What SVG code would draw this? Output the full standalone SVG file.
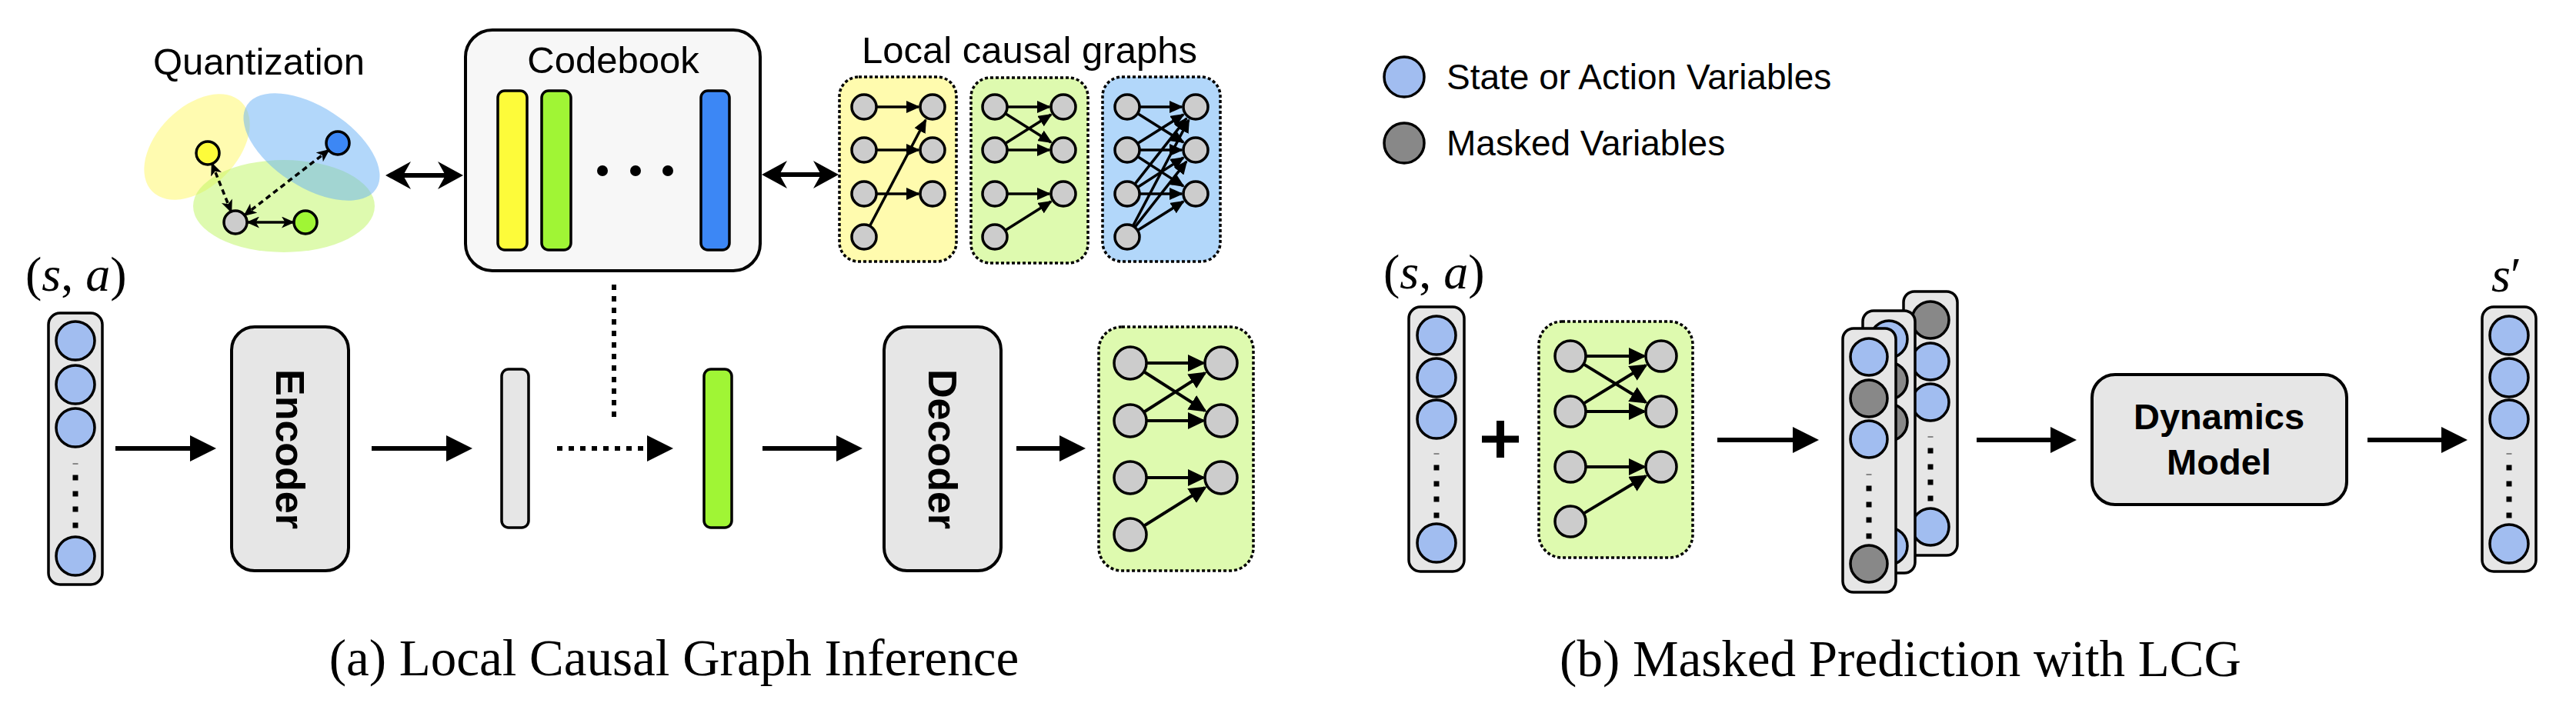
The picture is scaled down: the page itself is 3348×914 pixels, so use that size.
<svg xmlns="http://www.w3.org/2000/svg" xmlns:xlink="http://www.w3.org/1999/xlink" width="3348" height="914" viewBox="0 0 3348 914">
<style>
.t{font-family:"Liberation Sans",Arial,Helvetica,sans-serif;fill:#000}
.b{font-weight:bold}
.ser{font-family:"Liberation Serif","Times New Roman",serif;fill:#000}
.it{font-style:italic}
.ln{stroke:#000;stroke-width:6;fill:none}
.dl{stroke:#000;stroke-width:6;fill:none;stroke-dasharray:7 8}
.vec{fill:#E6E6E6;stroke:#000;stroke-width:3.5}
.blk{fill:#E6E6E6;stroke:#000;stroke-width:4}
.sv{fill:#A1BDF0;stroke:#000;stroke-width:3.5}
.mv{fill:#888888;stroke:#000;stroke-width:3.5}
.gn{fill:#CCCCCC;stroke:#000;stroke-width:3.5}
.lcg{stroke:#000;stroke-width:3.5;stroke-dasharray:4 3}
.ge{stroke:#000;stroke-width:3.5;fill:none;marker-end:url(#hG)}
.ge2{stroke:#000;stroke-width:4;fill:none;marker-end:url(#hG2)}
.qd{stroke:#000;stroke-width:3.5;fill:none;stroke-dasharray:7 5;marker-start:url(#hSm);marker-end:url(#hSm)}
</style>
<defs>
<marker id="hBig" markerUnits="userSpaceOnUse" markerWidth="34" markerHeight="34" viewBox="0 0 34 34" refX="26" refY="17" orient="auto"><path d="M0,0 L34,17 L0,34 z" fill="#000"/></marker>
<marker id="hSt" markerUnits="userSpaceOnUse" markerWidth="33" markerHeight="36" viewBox="0 0 33 36" refX="25" refY="18" orient="auto-start-reverse"><path d="M0,0 L33,18 L0,36 L10,18 z" fill="#000"/></marker>
<marker id="hSm" markerUnits="userSpaceOnUse" markerWidth="17" markerHeight="15" viewBox="0 0 17 15" refX="15" refY="7.5" orient="auto-start-reverse"><path d="M0,0 L17,7.5 L0,15 L4.5,7.5 z" fill="#000"/></marker>
<marker id="hG" markerUnits="userSpaceOnUse" markerWidth="18" markerHeight="16" viewBox="0 0 18 16" refX="16" refY="8" orient="auto"><path d="M0,0 L18,8 L0,16 z" fill="#000"/></marker>
<marker id="hG2" markerUnits="userSpaceOnUse" markerWidth="23" markerHeight="22" viewBox="0 0 23 22" refX="20" refY="11" orient="auto"><path d="M0,0 L23,11 L0,22 z" fill="#000"/></marker>
<g id="dots">
<rect x="-3.5" y="-1" width="7" height="2" fill="#888"/>
<rect x="-3.5" y="14.5" width="7" height="7" fill="#000"/>
<rect x="-3.5" y="35.5" width="7" height="7" fill="#000"/>
<rect x="-3.5" y="55.5" width="7" height="7" fill="#000"/>
<rect x="-3.5" y="76.5" width="7" height="7" fill="#000"/>
</g>
</defs>
<rect width="3348" height="914" fill="#fff"/>

<!-- Quantization -->
<g id="quantization">
<text class="t" x="199" y="97" font-size="49">Quantization</text>
<ellipse cx="256" cy="191" rx="82" ry="52" transform="rotate(-45 256 191)" fill="#FFF761" opacity="0.5"/>
<ellipse cx="369" cy="268" rx="118" ry="60" fill="#BDF55F" opacity="0.5"/>
<ellipse cx="405" cy="191" rx="100" ry="52" transform="rotate(33 405 191)" fill="#65AFF5" opacity="0.5"/>
<circle cx="270" cy="199" r="15" fill="#FDFB3A" stroke="#000" stroke-width="3.5"/>
<circle cx="439" cy="186" r="15" fill="#3C87F5" stroke="#000" stroke-width="3.5"/>
<circle cx="306" cy="289" r="15" fill="#CCCCCC" stroke="#000" stroke-width="3.5"/>
<circle cx="397" cy="289" r="15" fill="#A0F535" stroke="#000" stroke-width="3.5"/>
<line class="qd" x1="275.6" y1="212.9" x2="300.4" y2="275.1"/>
<line class="qd" x1="427.1" y1="195.2" x2="317.9" y2="279.8"/>
<line x1="322" y1="289" x2="381" y2="289" stroke="#000" stroke-width="3.5" marker-start="url(#hSm)" marker-end="url(#hSm)"/>
</g>

<!-- Codebook -->
<g id="codebook">
<rect x="605" y="39" width="383" height="313" rx="35" fill="#F7F7F7" stroke="#000" stroke-width="4"/>
<text class="t" x="797" y="95" font-size="49" text-anchor="middle">Codebook</text>
<rect x="647" y="118" width="38" height="207" rx="9" fill="#FDFB3A" stroke="#000" stroke-width="3.5"/>
<rect x="704" y="118" width="38" height="207" rx="9" fill="#A0F535" stroke="#000" stroke-width="3.5"/>
<rect x="911" y="118" width="37" height="207" rx="9" fill="#3C87F5" stroke="#000" stroke-width="3.5"/>
<circle cx="783" cy="222" r="7" fill="#000"/>
<circle cx="826" cy="222" r="7" fill="#000"/>
<circle cx="868" cy="222" r="7" fill="#000"/>
</g>

<!-- Local causal graphs -->
<text class="t" x="1338" y="82" font-size="49" text-anchor="middle">Local causal graphs</text>
<g id="lcg-yellow">
<rect class="lcg" x="1091" y="100" width="152" height="240" rx="25" fill="#FFFBAE"/>
<line class="ge" x1="1139" y1="139" x2="1194" y2="139"/>
<line class="ge" x1="1139" y1="195" x2="1194" y2="195"/>
<line class="ge" x1="1139" y1="252" x2="1194" y2="252"/>
<line class="ge" x1="1130.5" y1="293.8" x2="1203" y2="156"/>
<circle class="gn" cx="1123" cy="139" r="16"/><circle class="gn" cx="1123" cy="195" r="16"/><circle class="gn" cx="1123" cy="252" r="16"/><circle class="gn" cx="1123" cy="308" r="16"/>
<circle class="gn" cx="1212" cy="139" r="16"/><circle class="gn" cx="1212" cy="195" r="16"/><circle class="gn" cx="1212" cy="252" r="16"/>
</g>
<g id="lcg-green">
<rect class="lcg" x="1262" y="101" width="152" height="241" rx="25" fill="#DEFAAF"/>
<line class="ge" x1="1309" y1="139" x2="1364" y2="139"/>
<line class="ge" x1="1306.5" y1="147.5" x2="1366" y2="185"/>
<line class="ge" x1="1306.5" y1="186.5" x2="1366" y2="149"/>
<line class="ge" x1="1309" y1="195" x2="1364" y2="195"/>
<line class="ge" x1="1309" y1="252" x2="1364" y2="252"/>
<line class="ge" x1="1306.5" y1="299.5" x2="1366" y2="262"/>
<circle class="gn" cx="1293" cy="139" r="16"/><circle class="gn" cx="1293" cy="195" r="16"/><circle class="gn" cx="1293" cy="252" r="16"/><circle class="gn" cx="1293" cy="308" r="16"/>
<circle class="gn" cx="1382" cy="139" r="16"/><circle class="gn" cx="1382" cy="195" r="16"/><circle class="gn" cx="1382" cy="252" r="16"/>
</g>
<g id="lcg-blue">
<rect class="lcg" x="1433" y="100" width="153" height="240" rx="25" fill="#B2D7FA"/>
<line class="ge" x1="1481" y1="139" x2="1536" y2="139"/>
<line class="ge" x1="1478.5" y1="147.5" x2="1538" y2="185"/>
<line class="ge" x1="1478.5" y1="186.5" x2="1538" y2="149"/>
<line class="ge" x1="1481" y1="195" x2="1536" y2="195"/>
<line class="ge" x1="1478.5" y1="203.5" x2="1538" y2="242"/>
<line class="ge" x1="1478.5" y1="243.5" x2="1538" y2="205"/>
<line class="ge" x1="1481" y1="252" x2="1536" y2="252"/>
<line class="ge" x1="1474.9" y1="239.4" x2="1542" y2="154"/>
<line class="ge" x1="1472.5" y1="293.8" x2="1545" y2="156"/>
<line class="ge" x1="1474.9" y1="295.4" x2="1542" y2="210"/>
<line class="ge" x1="1478.5" y1="299.5" x2="1538" y2="262"/>
<circle class="gn" cx="1465" cy="139" r="16"/><circle class="gn" cx="1465" cy="195" r="16"/><circle class="gn" cx="1465" cy="252" r="16"/><circle class="gn" cx="1465" cy="308" r="16"/>
<circle class="gn" cx="1554" cy="139" r="16"/><circle class="gn" cx="1554" cy="195" r="16"/><circle class="gn" cx="1554" cy="252" r="16"/>
</g>

<!-- (a) pipeline -->
<g id="input-sa">
<text class="ser" x="33" y="378" font-size="64">(<tspan class="it">s</tspan>, <tspan class="it">a</tspan>)</text>
<rect class="vec" x="63" y="407" width="70" height="353" rx="15"/>
<circle class="sv" cx="98" cy="443" r="25"/>
<circle class="sv" cx="98" cy="500" r="25"/>
<circle class="sv" cx="98" cy="556" r="25"/>
<use xlink:href="#dots" x="98" y="603"/>
<circle class="sv" cx="98" cy="723" r="25"/>
</g>
<g id="encoder">
<rect class="blk" x="301" y="425" width="152" height="317" rx="30"/>
<text class="t b" transform="translate(377,584) rotate(90)" y="18" font-size="52" text-anchor="middle">Encoder</text>
</g>
<g id="latent">
<rect x="652" y="480" width="35" height="206" rx="9" fill="#E6E6E6" stroke="#000" stroke-width="3.5"/>
</g>
<g id="quantized">
<rect x="915" y="480" width="36" height="206" rx="9" fill="#A0F535" stroke="#000" stroke-width="3.5"/>
</g>
<g id="decoder">
<rect class="blk" x="1149" y="425" width="152" height="317" rx="30"/>
<text class="t b" transform="translate(1225,584) rotate(90)" y="18" font-size="52" text-anchor="middle">Decoder</text>
</g>
<g id="lcg-out">
<rect class="lcg" x="1428" y="425" width="201" height="317" rx="30" fill="#DEFAAF"/>
<line class="ge2" x1="1490" y1="472" x2="1564" y2="472"/>
<line class="ge2" x1="1486.7" y1="483.3" x2="1566" y2="534"/>
<line class="ge2" x1="1486.7" y1="535.7" x2="1566" y2="485"/>
<line class="ge2" x1="1490" y1="547" x2="1564" y2="547"/>
<line class="ge2" x1="1490" y1="621" x2="1564" y2="621"/>
<line class="ge2" x1="1486.7" y1="683.7" x2="1566" y2="634"/>
<circle class="gn" cx="1469" cy="472" r="21"/><circle class="gn" cx="1469" cy="547" r="21"/><circle class="gn" cx="1469" cy="621" r="21"/><circle class="gn" cx="1469" cy="695" r="21"/>
<circle class="gn" cx="1587" cy="472" r="21"/><circle class="gn" cx="1587" cy="547" r="21"/><circle class="gn" cx="1587" cy="621" r="21"/>
</g>

<!-- (b) -->
<g id="legend">
<circle class="sv" cx="1825" cy="100" r="26"/>
<text class="t" x="1880" y="116" font-size="46">State or Action Variables</text>
<circle class="mv" cx="1825" cy="186" r="26"/>
<text class="t" x="1880" y="202" font-size="46">Masked Variables</text>
</g>
<g id="input-sa-b">
<text class="ser" x="1798" y="375" font-size="64">(<tspan class="it">s</tspan>, <tspan class="it">a</tspan>)</text>
<rect class="vec" x="1831" y="399" width="72" height="344" rx="15"/>
<circle class="sv" cx="1867" cy="436" r="25"/>
<circle class="sv" cx="1867" cy="491" r="25"/>
<circle class="sv" cx="1867" cy="545" r="25"/>
<use xlink:href="#dots" x="1867" y="590"/>
<circle class="sv" cx="1867" cy="706" r="25"/>
</g>
<g id="plus">
<rect x="1926" y="566.5" width="48" height="9" fill="#000"/>
<rect x="1945" y="547" width="10" height="48" fill="#000"/>
</g>
<g id="lcg-b">
<rect class="lcg" x="2000" y="418" width="200" height="307" rx="30" fill="#DEFAAF"/>
<line class="ge2" x1="2061" y1="463" x2="2137" y2="463"/>
<line class="ge2" x1="2058.1" y1="473.4" x2="2139" y2="523"/>
<line class="ge2" x1="2058.1" y1="524.6" x2="2139" y2="475"/>
<line class="ge2" x1="2061" y1="535" x2="2137" y2="535"/>
<line class="ge2" x1="2061" y1="607" x2="2137" y2="607"/>
<line class="ge2" x1="2058.1" y1="667.6" x2="2139" y2="619"/>
<circle class="gn" cx="2041" cy="463" r="20"/><circle class="gn" cx="2041" cy="535" r="20"/><circle class="gn" cx="2041" cy="607" r="20"/><circle class="gn" cx="2041" cy="678" r="20"/>
<circle class="gn" cx="2159" cy="463" r="20"/><circle class="gn" cx="2159" cy="535" r="20"/><circle class="gn" cx="2159" cy="607" r="20"/>
</g>
<g id="masked-inputs">
<rect class="vec" x="2474" y="379" width="70" height="343" rx="14"/>
<circle class="mv" cx="2509" cy="416" r="24"/>
<circle class="sv" cx="2509" cy="470" r="24"/>
<circle class="sv" cx="2509" cy="523" r="24"/>
<use xlink:href="#dots" x="2509" y="568"/>
<circle class="sv" cx="2509" cy="685" r="24"/>
<rect class="vec" x="2421" y="404" width="68" height="341" rx="14"/>
<circle class="sv" cx="2455" cy="441" r="24"/>
<circle class="mv" cx="2455" cy="495" r="24"/>
<circle class="mv" cx="2455" cy="549" r="24"/>
<circle class="sv" cx="2455" cy="710" r="24"/>
<rect class="vec" x="2395" y="427" width="69" height="343" rx="14"/>
<circle class="sv" cx="2429" cy="464" r="24"/>
<circle class="mv" cx="2429" cy="518" r="24"/>
<circle class="sv" cx="2429" cy="571" r="24"/>
<use xlink:href="#dots" x="2429" y="617"/>
<circle class="mv" cx="2429" cy="733" r="24"/>
</g>
<g id="dynamics">
<rect class="blk" x="2719" y="487" width="331" height="169" rx="30"/>
<text class="t b" x="2884" y="558" font-size="47" text-anchor="middle">Dynamics</text>
<text class="t b" x="2884" y="617" font-size="47" text-anchor="middle">Model</text>
</g>
<g id="output-s">
<text class="ser" x="3238" y="379" font-size="64"><tspan class="it">s</tspan>′</text>
<rect class="vec" x="3226" y="399" width="70" height="344" rx="15"/>
<circle class="sv" cx="3261" cy="436" r="25"/>
<circle class="sv" cx="3261" cy="491" r="25"/>
<circle class="sv" cx="3261" cy="545" r="25"/>
<use xlink:href="#dots" x="3261" y="590"/>
<circle class="sv" cx="3261" cy="707" r="25"/>
</g>

<!-- connectors -->
<g id="connectors">
<line x1="509" y1="228" x2="594" y2="228" class="ln" marker-start="url(#hSt)" marker-end="url(#hSt)"/>
<line x1="998" y1="227" x2="1082" y2="227" class="ln" marker-start="url(#hSt)" marker-end="url(#hSt)"/>
<line x1="798" y1="370" x2="798" y2="546" class="dl"/>
<line x1="150" y1="583" x2="273" y2="583" class="ln" marker-end="url(#hBig)"/>
<line x1="483" y1="583" x2="606" y2="583" class="ln" marker-end="url(#hBig)"/>
<line x1="724" y1="583" x2="867" y2="583" class="dl" marker-end="url(#hBig)"/>
<line x1="991" y1="583" x2="1113" y2="583" class="ln" marker-end="url(#hBig)"/>
<line x1="1321" y1="583" x2="1403" y2="583" class="ln" marker-end="url(#hBig)"/>
<line x1="2232" y1="572" x2="2356" y2="572" class="ln" marker-end="url(#hBig)"/>
<line x1="2569" y1="572" x2="2691" y2="572" class="ln" marker-end="url(#hBig)"/>
<line x1="3077" y1="572" x2="3199" y2="572" class="ln" marker-end="url(#hBig)"/>
</g>

<text class="ser" x="876" y="878" font-size="67" text-anchor="middle">(a) Local Causal Graph Inference</text>
<text class="ser" x="2470" y="879" font-size="67" text-anchor="middle">(b) Masked Prediction with LCG</text>
</svg>
